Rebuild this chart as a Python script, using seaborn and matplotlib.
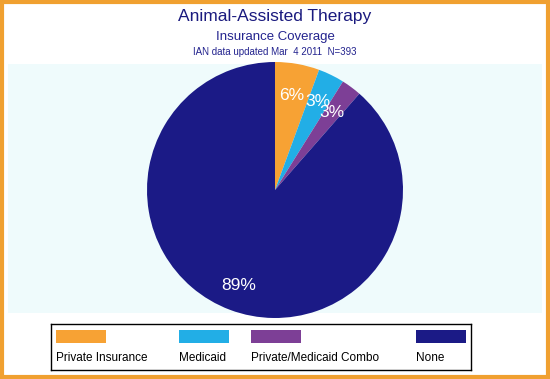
import numpy as np
import matplotlib
matplotlib.use("Agg")
import matplotlib.pyplot as plt
import seaborn as sns
from matplotlib.patches import Rectangle

# Insurance coverage counts (N=393)
categories = ["Private Insurance", "Medicaid", "Private/Medicaid Combo", "None"]
counts = [22, 13, 10, 348]
colors = ["#f7a234", "#22aee6", "#7d3f96", "#1b1a86"]

sns.set_theme(style="white")
plt.rcParams["font.family"] = ["Liberation Sans", "DejaVu Sans"]

W, H = 550, 379
fig = plt.figure(figsize=(W / 100, H / 100), dpi=100)
fig.patch.set_facecolor("white")

def px(x0, y0, x1, y1):
    return [x0 / W, 1 - y1 / H, (x1 - x0) / W, (y1 - y0) / H]

# pie area
ax = fig.add_axes(px(8, 64, 542, 313))
total = sum(counts)
pct = [round(c / total * 100) for c in counts]
wedges, texts = ax.pie(counts, colors=colors, startangle=90, counterclock=False,
                       radius=1, wedgeprops=dict(linewidth=0))
for w in wedges:
    w.set_clip_on(False)
# percentage labels
cum = np.cumsum([0] + counts) / total
label_r = [0.75, 0.77, 0.75, 0.8]
for i, p in enumerate(pct):
    mid = (cum[i] + cum[i + 1]) / 2
    ang = np.pi / 2 - 2 * np.pi * mid
    r = label_r[i]
    ax.text(r * np.cos(ang), r * np.sin(ang), f"{p}%", color="white",
            fontsize=12.5, ha="center", va="center")
cx, cy, rad = 275, 190, 128
ax.set_frame_on(True)
ax.set_facecolor("#effbfc")
for s in ax.spines.values():
    s.set_visible(False)
ax.set_aspect("auto")
ax.set_xlim(-(cx - 8) / rad, (542 - cx) / rad)
ax.set_ylim(-(313 - cy) / rad, (cy - 64) / rad)
ax.set_xticks([])
ax.set_yticks([])

# titles
fig.text(0.5, 1 - 17 / H, "Animal-Assisted Therapy", ha="center", va="center",
         fontsize=12.5, color="#1a1a7e")
fig.text(0.5, 1 - 37 / H, "Insurance Coverage", ha="center", va="center",
         fontsize=9.5, color="#23238e")
fig.text(0.5, 1 - 52 / H, "IAN data updated Mar  4 2011  N=393", ha="center",
         va="center", fontsize=7, color="#23238e")

# legend box
lax = fig.add_axes(px(51, 324, 471, 370))
lax.set_xlim(51, 471)
lax.set_ylim(370, 324)
lax.set_xticks([])
lax.set_yticks([])
lax.set_facecolor("white")
for s in lax.spines.values():
    s.set_color("black")
    s.set_linewidth(1)
leg_x = [56, 179, 251, 416]
for x, c, name in zip(leg_x, colors, categories):
    lax.add_patch(Rectangle((x, 330), 50, 13, facecolor=c, edgecolor="none"))
    lax.text(x, 358, name, fontsize=8.5, color="black", ha="left", va="center")

# orange border around the whole image
fig.add_artist(Rectangle((0.003, 0.004), 0.994, 0.992, transform=fig.transFigure,
                         fill=False, edgecolor="#f0a030", linewidth=3))

fig.savefig("out.png", dpi=100)
